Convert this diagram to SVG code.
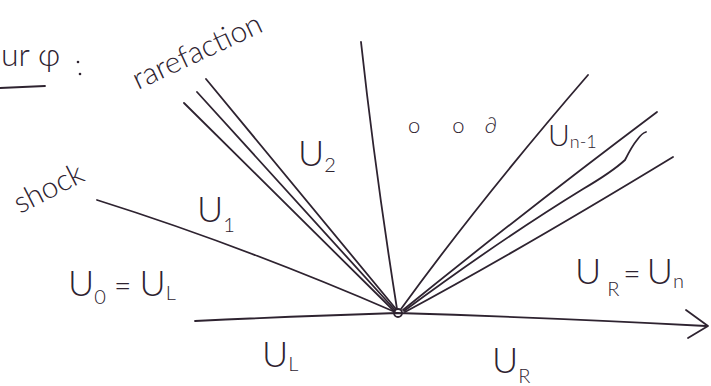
<svg xmlns="http://www.w3.org/2000/svg" width="711" height="386" viewBox="0 0 711 386">
<style>
.ln{fill:none;stroke:#2e2330;stroke-width:1.8;stroke-linecap:round;stroke-linejoin:round}
.t{font-family:"Lato","Liberation Sans",sans-serif;font-weight:300;fill:#2e2330}
.u{font-size:36px}
.s{font-size:20px}
</style>
<rect width="711" height="386" fill="#ffffff"/>
<g id="connectors">
  <path class="ln" d="M195,321 Q300,316 397,313 Q560,318 706,326"/>
  <path class="ln" d="M686,310 L708,326 L688,338"/>
  <path class="ln" d="M97,200 Q240,245 395,312"/>
  <path class="ln" d="M184,103 L394,311"/>
  <path class="ln" d="M197,92 L395,310"/>
  <path class="ln" d="M206,79 L396,309"/>
  <path class="ln" d="M361,42 Q375,170 397,309"/>
  <path class="ln" d="M401,309 Q480,200 588,75"/>
  <path class="ln" d="M403,310 Q520,215 657,112"/>
  <path class="ln" d="M404,311 Q500,240 583,189 Q612,172 625,160 Q632,146 637,140 Q642,133 646,132"/>
  <path class="ln" d="M405,312 Q520,250 673,157"/>
  <circle class="ln" cx="398" cy="313" r="4"/>
</g>
<g id="title">
  <text class="t" x="1" y="66" font-size="32">ur φ</text>
  <circle cx="78" cy="62" r="1.3" fill="#2e2330"/>
  <circle cx="80" cy="74" r="1.3" fill="#2e2330"/>
  <path class="ln" d="M0,88 L45,86"/>
</g>
<g id="rarefaction-label">
  <text class="t" font-size="30" transform="translate(138,90) rotate(-25)">rarefaction</text>
</g>
<g id="shock-label">
  <text class="t" font-size="30" transform="translate(20,214) rotate(-27)">shock</text>
</g>
<g id="U2"><text class="t u" x="298" y="166">U<tspan class="s" dy="6">2</tspan></text></g>
<g id="dots"><text class="t" font-size="22" x="408" y="133">o<tspan dx="32">o</tspan><tspan dx="20">∂</tspan></text></g>
<g id="Un1"><text class="t" font-size="30" x="548" y="146">U<tspan font-size="18" dy="2">n-1</tspan></text></g>
<g id="U1"><text class="t u" x="197" y="222">U<tspan class="s" dy="10">1</tspan></text></g>
<g id="U0"><text class="t u" x="68" y="296">U<tspan class="s" dy="8">0</tspan><tspan dy="-8" font-size="30"> = </tspan>U<tspan class="s" dy="4">L</tspan></text></g>
<g id="UL"><text class="t u" x="262" y="367">U<tspan class="s" dy="4">L</tspan></text></g>
<g id="UR"><text class="t u" x="492" y="373">U<tspan class="s" dy="10">R</tspan></text></g>
<g id="URn"><text class="t u" x="575" y="284">U<tspan class="s" dx="6" dy="12">R</tspan><tspan dx="4" dy="-12" font-size="30">=</tspan><tspan dx="6">U</tspan><tspan class="s" dy="4">n</tspan></text></g>
</svg>
